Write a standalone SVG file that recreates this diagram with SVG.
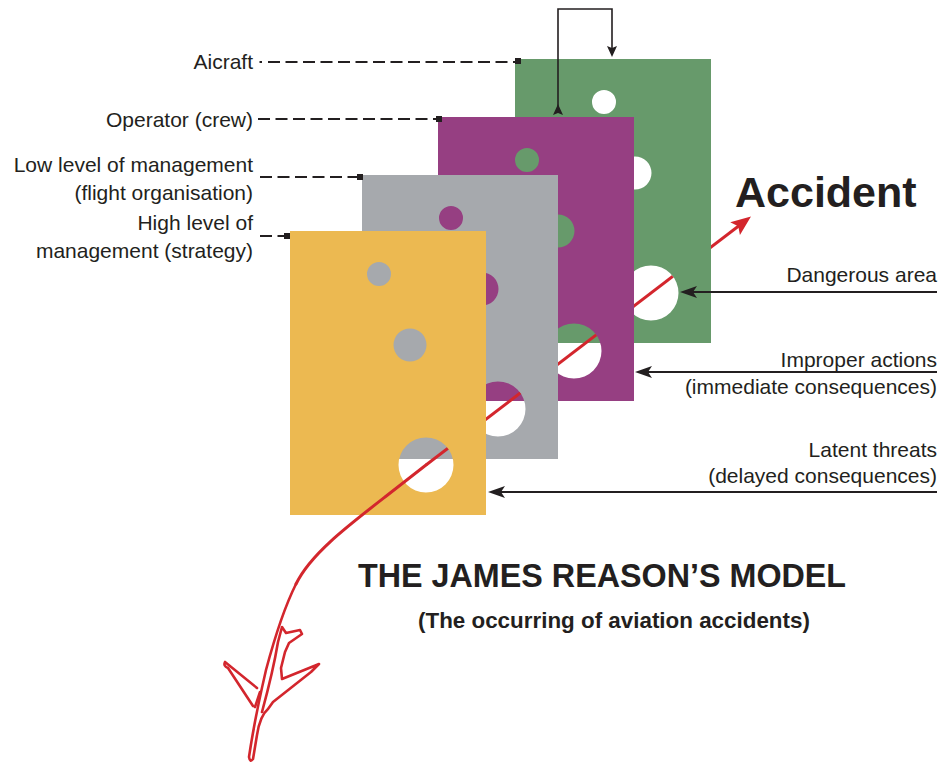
<svg xmlns="http://www.w3.org/2000/svg" width="940" height="763" viewBox="0 0 940 763">
<style>
.lbl{font-family:"Liberation Sans",Arial,Helvetica,sans-serif;font-size:21px;fill:#231f20}
.r{text-anchor:end}
.b{font-weight:bold}
.dash{fill:none;stroke:#231f20;stroke-width:2;stroke-dasharray:12 5.5}
.ln{fill:none;stroke:#231f20;stroke-width:2}
.thin{fill:none;stroke:#231f20;stroke-width:1.6}
.red{fill:none;stroke:#d3262d;stroke-width:3}
.plane{fill:none;stroke:#d3262d;stroke-width:2.6;stroke-linejoin:round;stroke-linecap:round}
.sq{fill:#231f20}
</style>
<defs>
<path id="plate" fill-rule="evenodd" d="M0,0H196V284H0Z M77,43a12,12 0 1,0 24,0a12,12 0 1,0 -24,0Z M103.5,114a16.5,16.5 0 1,0 33,0a16.5,16.5 0 1,0 -33,0Z M108.5,234a27.5,27.5 0 1,0 55,0a27.5,27.5 0 1,0 -55,0Z"/>
<marker id="ah" markerUnits="userSpaceOnUse" viewBox="0 0 18 14" markerWidth="18" markerHeight="14" refX="11" refY="7" orient="auto"><path d="M0,1L17,7L0,13L4,7Z" fill="#231f20"/></marker>
<marker id="ahs" markerUnits="userSpaceOnUse" viewBox="0 0 12 10" markerWidth="12" markerHeight="10" refX="5" refY="5" orient="auto"><path d="M0,0L11,5L0,10L2,5Z" fill="#231f20"/></marker>
<marker id="ahr" markerUnits="userSpaceOnUse" viewBox="0 0 20 16" markerWidth="20" markerHeight="16" refX="14" refY="8" orient="auto"><path d="M0,0L20,8L0,16L4,8Z" fill="#d3262d"/></marker>
<mask id="holes" maskUnits="userSpaceOnUse" x="0" y="0" width="940" height="763">
<rect x="711" y="0" width="229" height="763" fill="#fff"/>
<circle cx="651" cy="293" r="27.5" fill="#fff"/>
<rect x="438" y="117" width="196" height="284" fill="#000"/>
<circle cx="574" cy="351" r="27.5" fill="#fff"/>
<rect x="362" y="175" width="196" height="284" fill="#000"/>
<circle cx="498" cy="409" r="27.5" fill="#fff"/>
<rect x="290" y="231" width="196" height="284" fill="#000"/>
<circle cx="426" cy="465" r="27.5" fill="#fff"/>
</mask>
</defs>

<g id="plate-aircraft"><use href="#plate" x="515" y="59" fill="#679a6b"/></g>
<g id="plate-operator"><use href="#plate" x="438" y="117" fill="#963f82"/></g>
<g id="plate-low-management"><use href="#plate" x="362" y="175" fill="#a6a9ad"/></g>
<g id="plate-high-management"><use href="#plate" x="290" y="231" fill="#ecb951"/></g>

<g id="labels-left">
<text class="lbl r" x="253" y="69">Aicraft</text>
<text class="lbl r" x="253" y="127">Operator (crew)</text>
<text class="lbl r" x="253" y="172">Low level of management</text>
<text class="lbl r" x="253" y="200">(flight organisation)</text>
<text class="lbl r" x="253" y="230">High level of</text>
<text class="lbl r" x="253" y="258">management (strategy)</text>
</g>

<g id="labels-right">
<text class="lbl r" x="937" y="282">Dangerous area</text>
<text class="lbl r" x="937" y="367">Improper actions</text>
<text class="lbl r" x="937" y="394">(immediate consequences)</text>
<text class="lbl r" x="937" y="457">Latent threats</text>
<text class="lbl r" x="937" y="483">(delayed consequences)</text>
</g>

<g id="accident"><text class="lbl b" x="735" y="207" style="font-size:43px">Accident</text></g>

<g id="title">
<text class="lbl b" x="358" y="587" style="font-size:32.3px">THE JAMES REASON’S MODEL</text>
<text class="lbl b" x="418" y="628" style="font-size:22.4px">(The occurring of aviation accidents)</text>
</g>

<g id="connectors">
<path class="ln" d="M259.5,62H262"/>
<path class="dash" d="M268,62H515"/>
<rect class="sq" x="515" y="58" width="6" height="6"/>
<path class="dash" d="M258,119H436"/>
<rect class="sq" x="436" y="116" width="6" height="6"/>
<path class="dash" d="M260,177H358"/>
<rect class="sq" x="357" y="174" width="6" height="6"/>
<path class="dash" d="M260,236H285"/>
<rect class="sq" x="284" y="233" width="6" height="6"/>
<path class="thin" d="M558,110V9H612V51" marker-start="url(#ahs)" marker-end="url(#ahs)"/>
<path class="ln" d="M937,292H686" marker-end="url(#ah)"/>
<path class="ln" d="M937,372H641" marker-end="url(#ah)"/>
<path class="ln" d="M937,492H494" marker-end="url(#ah)"/>
</g>

<g id="trajectory">
<path class="red" mask="url(#holes)" d="M426,465L746.2,220.2" marker-end="url(#ahr)"/>
<path class="plane" style="stroke-width:3" d="M426,465L385,497C345,528 310,555 296,584"/>
<path class="plane" d="M296,584C284,608 274,640 266,670C259,700 253,730 249,757Q250,763 253,759L257,735C259,722 262,714 268,709L273,702L311,672L319,664L282,679L281,668L285,652L289,643L302,634L300,630L286,633L282,627L278,642C275,660 268,690 262,712"/>
<path class="plane" d="M257,688L225,662Q223,666 228,668L253,706M260,692L255,707"/>
</g>
</svg>
